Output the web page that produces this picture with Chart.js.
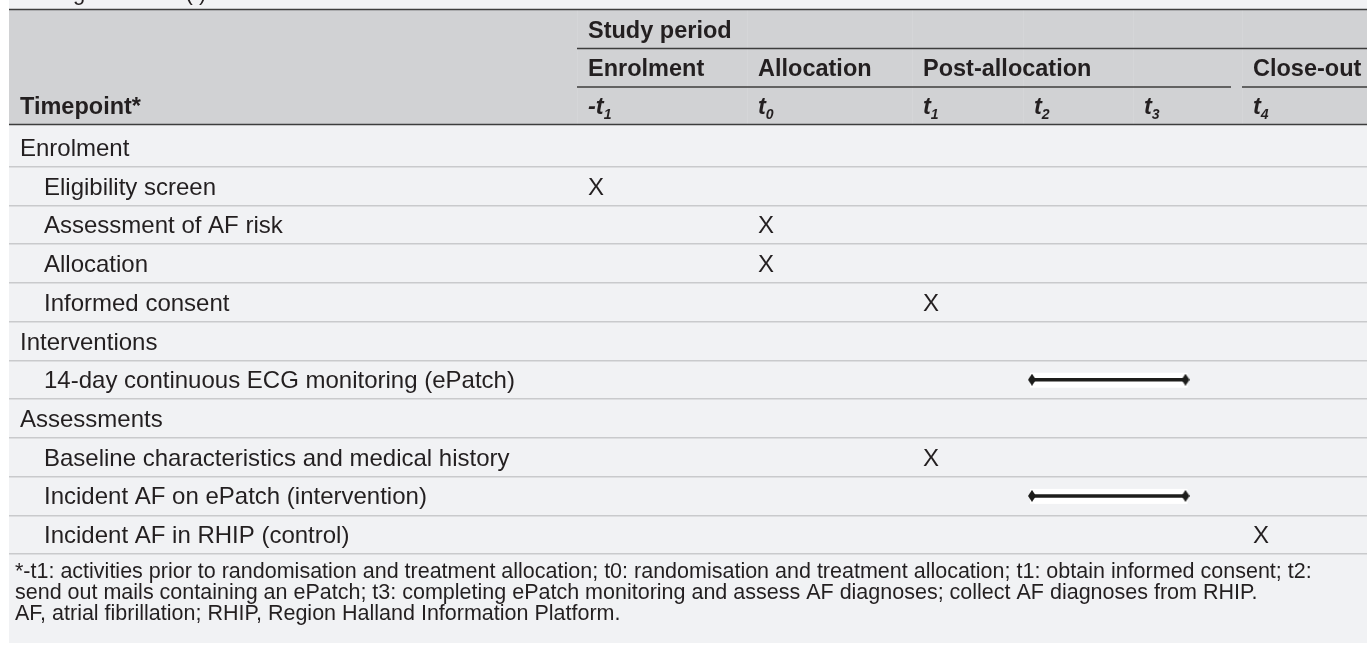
<!DOCTYPE html>
<html>
<head>
<meta charset="utf-8">
<script src="https://cdn.jsdelivr.net/npm/chart.js@4.4.1/dist/chart.umd.min.js"></script>
<style>
  html, body { margin: 0; padding: 0; background: #fff; }
  #wrap { position: relative; width: 1367px; height: 646px; }
</style>
</head>
<body>
<div id="wrap"><canvas id="schedule"></canvas></div>
<script>
// rows of the schedule, top to bottom
const rowLabels = ['Enrolment', 'Eligibility screen', 'Assessment of AF risk', 'Allocation', 'Informed consent',
  'Interventions', '14-day continuous ECG monitoring (ePatch)', 'Assessments',
  'Baseline characteristics and medical history', 'Incident AF on ePatch (intervention)', 'Incident AF in RHIP (control)'];
const sectionRows = ['Enrolment', 'Interventions', 'Assessments'];

// timepoints, last character is the subscript
const timepoints = ['-t1', 't0', 't1', 't2', 't3', 't4'];
const phaseLabels = ['Enrolment', 'Allocation', 'Post-allocation', 'Close-out'];
const phaseStart = ['-t1', 't0', 't1', 't4'];
const studyPeriod = 'Study period';
const timepointTitle = 'Timepoint*';

// activities at a single timepoint (X)
const markRows = ['Eligibility screen', 'Assessment of AF risk', 'Allocation', 'Informed consent',
  'Baseline characteristics and medical history', 'Incident AF in RHIP (control)'];
const markTimes = ['-t1', 't0', 't0', 't1', 't1', 't4'];

// activities running over a period (arrow)
const spanRows = ['14-day continuous ECG monitoring (ePatch)', 'Incident AF on ePatch (intervention)'];
const spanFrom = ['t2', 't2'];
const spanTo = ['t3', 't3'];

const caption = 'Timing schedule (t)';
const footnotes = [
  '*-t1: activities prior to randomisation and treatment allocation; t0: randomisation and treatment allocation; t1: obtain informed consent; t2:',
  'send out mails containing an ePatch; t3: completing ePatch monitoring and assess AF diagnoses; collect AF diagnoses from RHIP.',
  'AF, atrial fibrillation; RHIP, Region Halland Information Platform.'
];

// ---- layout ----
const W = 1367, H = 646;
const panelLeft = 9, panelBottom = 643;
const headTop = 10, headBottom = 124.5;
const bodyTop = 128, bodyBottom = 554;
// column edges measured from the panel's left edge: label column, then one column per timepoint
const colEdges = [0, 568, 738, 903, 1014, 1124, 1233, 1358];
const cellPad = 11;
const FONT = '"Liberation Sans", Arial, Helvetica, sans-serif';
const INK = '#231f20';

const tpIdx = t => timepoints.indexOf(t);
const cellX = t => colEdges[tpIdx(t) + 1] + cellPad;
const spanX0 = t => colEdges[tpIdx(t) + 1] + cellPad - 2;
const spanX1 = t => (colEdges[tpIdx(t) + 1] + colEdges[tpIdx(t) + 2]) / 2 - 2;

// arrow tip used at both ends of a period
const tip = document.createElement('canvas');
tip.width = 8; tip.height = 12;
const tc = tip.getContext('2d');
tc.fillStyle = '#1d1d1b';
tc.beginPath(); tc.moveTo(4, 0); tc.lineTo(8, 6); tc.lineTo(4, 12); tc.lineTo(0, 6); tc.closePath(); tc.fill();

const tablePlugin = {
  id: 'table',
  beforeDraw(chart) {
    const ctx = chart.ctx, x = chart.scales.x;
    const px = v => x.getPixelForValue(v);
    ctx.save();
    ctx.fillStyle = '#fff';
    ctx.fillRect(0, 0, W, H);
    ctx.fillStyle = '#f1f2f4';
    ctx.fillRect(panelLeft, 0, W - panelLeft, panelBottom);
    ctx.fillStyle = '#d1d2d4';
    ctx.fillRect(panelLeft, headTop, W - panelLeft, headBottom - headTop);

    // caption cut off at the top
    ctx.fillStyle = INK;
    ctx.font = '22px ' + FONT;
    ctx.fillText(caption, panelLeft + cellPad, 0);

    // faint column separators in the header
    ctx.strokeStyle = '#d5d6d8';
    ctx.lineWidth = 1;
    for (let i = 1; i < colEdges.length - 1; i++) {
      ctx.beginPath();
      ctx.moveTo(Math.round(px(colEdges[i])) + 0.5, headTop);
      ctx.lineTo(Math.round(px(colEdges[i])) + 0.5, headBottom);
      ctx.stroke();
    }

    // header rules
    ctx.strokeStyle = '#3d3d3d';
    ctx.lineWidth = 1.6;
    ctx.beginPath(); ctx.moveTo(panelLeft, 9.5); ctx.lineTo(W, 9.5); ctx.stroke();
    ctx.beginPath(); ctx.moveTo(panelLeft, headBottom); ctx.lineTo(W, headBottom); ctx.stroke();
    ctx.lineWidth = 1.4;
    ctx.beginPath(); ctx.moveTo(px(colEdges[1]), 48.5); ctx.lineTo(W, 48.5); ctx.stroke();
    phaseStart.forEach((t, i) => {
      const a = px(colEdges[tpIdx(t) + 1]);
      const last = i === phaseStart.length - 1;
      const b = last ? W : px(colEdges[tpIdx(phaseStart[i + 1]) + 1]) - (i === phaseStart.length - 2 ? cellPad : 0);
      ctx.beginPath(); ctx.moveTo(a, 87); ctx.lineTo(b, 87); ctx.stroke();
    });

    // header text
    ctx.fillStyle = INK;
    ctx.font = 'bold 23.5px ' + FONT;
    ctx.fillText(studyPeriod, px(cellX(timepoints[0])), 37.5);
    phaseLabels.forEach((p, i) => ctx.fillText(p, px(cellX(phaseStart[i])), 76));
    ctx.fillText(timepointTitle, px(colEdges[0] + cellPad), 114);
    timepoints.forEach(t => {
      const base = t.slice(0, -1), sub = t.slice(-1);
      const tx = px(cellX(t));
      ctx.font = 'italic bold 23.5px ' + FONT;
      ctx.fillText(base, tx, 114);
      const w = ctx.measureText(base).width;
      ctx.font = 'italic bold 14px ' + FONT;
      ctx.fillText(sub, tx + w, 119);
    });
    ctx.restore();
  },
  beforeDatasetsDraw(chart) {
    const ctx = chart.ctx, x = chart.scales.x, y = chart.scales.y;
    ctx.save();
    ctx.fillStyle = INK;
    ctx.font = '24px ' + FONT;
    rowLabels.forEach((r, i) => {
      const indent = sectionRows.includes(r) ? cellPad : cellPad + 24;
      ctx.fillText(r, x.getPixelForValue(colEdges[0] + indent), y.getPixelForValue(i) + 8.5);
    });
    // white box behind each period arrow
    chart.data.datasets.forEach((ds, di) => {
      if (ds.label !== 'span') return;
      const pts = chart.getDatasetMeta(di).data;
      ctx.fillStyle = '#fff';
      ctx.fillRect(pts[0].x - 2, pts[0].y - 7, pts[1].x - pts[0].x + 4, 15);
    });
    ctx.restore();
  },
  afterDatasetsDraw(chart) {
    const ctx = chart.ctx;
    ctx.save();
    ctx.fillStyle = INK;
    ctx.font = '24px ' + FONT;
    chart.getDatasetMeta(0).data.forEach(pt => ctx.fillText('X', pt.x, pt.y + 8.5));
    ctx.font = '21.5px ' + FONT;
    footnotes.forEach((f, i) => ctx.fillText(f, panelLeft + 6, 578 + i * 21));
    ctx.restore();
  }
};

new Chart(document.getElementById('schedule').getContext('2d'), {
  type: 'scatter',
  data: {
    datasets: [
      {
        label: 'marks',
        data: markRows.map((r, i) => ({ x: cellX(markTimes[i]), y: r })),
        pointRadius: 0,
        pointHoverRadius: 0
      },
      ...spanRows.map((r, i) => ({
        label: 'span',
        data: [{ x: spanX0(spanFrom[i]), y: r }, { x: spanX1(spanTo[i]), y: r }],
        showLine: true,
        borderColor: '#1d1d1b',
        borderWidth: 3.5,
        pointStyle: tip,
        pointRadius: 4,
        pointHoverRadius: 4
      }))
    ]
  },
  options: {
    responsive: true,
    maintainAspectRatio: false,
    animation: false,
    events: [],
    layout: {
      autoPadding: false,
      padding: { left: panelLeft, right: W - panelLeft - colEdges[7], top: bodyTop, bottom: H - bodyBottom }
    },
    scales: {
      x: { type: 'linear', min: colEdges[0], max: colEdges[7], display: false },
      y: {
        type: 'category',
        labels: rowLabels,
        offset: true,
        ticks: { display: false },
        border: { display: false },
        grid: {
          offset: true,
          drawTicks: false,
          lineWidth: 1.5,
          color: c => c.index === 0 ? 'rgba(0,0,0,0)' : '#c9cacc'
        }
      }
    },
    plugins: { legend: { display: false }, tooltip: { enabled: false } }
  },
  plugins: [tablePlugin]
});
</script>
</body>
</html>
